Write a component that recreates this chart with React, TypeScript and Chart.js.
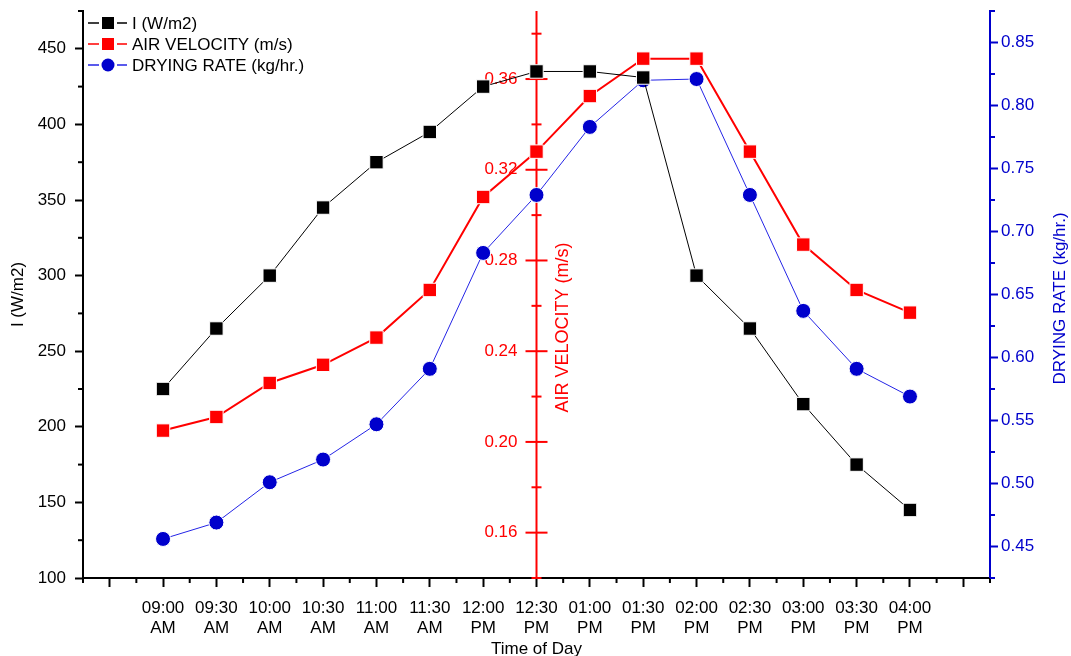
import React, { useEffect, useRef } from 'react';
import { Chart, registerables } from 'chart.js';

Chart.register(...registerables);

// ---- data ----
const TIMES = [
  '09:00 AM', '09:30 AM', '10:00 AM', '10:30 AM', '11:00 AM', '11:30 AM', '12:00 PM',
  '12:30 PM', '01:00 PM', '01:30 PM', '02:00 PM', '02:30 PM', '03:00 PM', '03:30 PM', '04:00 PM',
];
const IRRADIANCE = [225, 265, 300, 345, 375, 395, 425, 435, 435, 431, 300, 265, 215, 175, 145];
const AIR_VELOCITY = [0.205, 0.211, 0.226, 0.234, 0.246, 0.267, 0.308, 0.328, 0.3525, 0.369, 0.369, 0.328, 0.287, 0.267, 0.257];
const DRYING_RATE = [0.456, 0.469, 0.501, 0.519, 0.547, 0.591, 0.683, 0.729, 0.783, 0.820, 0.821, 0.729, 0.637, 0.591, 0.569];

const I_TICKS = [100, 150, 200, 250, 300, 350, 400, 450];
const AV_TICKS = [0.16, 0.2, 0.24, 0.28, 0.32, 0.36];
const DR_TICKS = [0.45, 0.5, 0.55, 0.6, 0.65, 0.7, 0.75, 0.8, 0.85];
const X_TICKS = [-1, 0, 1, 2, 3, 4, 5, 6, 7, 8, 9, 10, 11, 12, 13, 14, 15];

const SERIES_NAMES = ['I (W/m2)', 'AIR VELOCITY (m/s)', 'DRYING RATE (kg/hr.)'];
const TITLE_X = 'Time of Day';
const TITLE_I = 'I (W/m2)';
const TITLE_AV = 'AIR VELOCITY (m/s)';
const TITLE_DR = 'DRYING RATE (kg/hr.)';
const AV_AXIS_AT = '12:30 PM';

// ---- style ----
const FONT = 'Liberation Sans, Arial, Helvetica, sans-serif';
const BLACK = '#000000';
const RED = '#ff0000';
const BLUE = '#0000cc';
const BLUE_LINE = '#2424e6';

const toPts = (arr: number[]) => arr.map((v, i) => ({ x: i, y: v }));

function minorTicks(min: number, max: number, step: number, majors: number[]) {
  const out: number[] = [];
  const n = Math.round((max - min) / step);
  for (let i = 0; i <= n; i++) {
    const v = min + i * step;
    if (!majors.some((m) => Math.abs(m - v) < step / 10)) out.push(v);
  }
  return out;
}

const noPad = (s: any) => {
  s.paddingTop = 0;
  s.paddingBottom = 0;
  s.paddingLeft = 0;
  s.paddingRight = 0;
};

const decorPlugin = {
  id: 'decor',
  beforeDatasetsDraw(chart: any) {
    const { ctx, chartArea, scales } = chart;
    const xs = scales.x;
    const yI = scales.yI;
    const yAV = scales.yAV;
    const yDR = scales.yDR;
    ctx.save();

    // minor ticks on x axis
    ctx.lineWidth = 2;
    ctx.strokeStyle = BLACK;
    for (const v of minorTicks(xs.min, xs.max, 0.5, X_TICKS)) {
      const px = xs.getPixelForValue(v);
      ctx.beginPath();
      ctx.moveTo(px, chartArea.bottom);
      ctx.lineTo(px, chartArea.bottom + 5);
      ctx.stroke();
    }
    // minor ticks on left axis
    for (const v of minorTicks(yI.min, yI.max, 25, I_TICKS)) {
      const py = yI.getPixelForValue(v);
      ctx.beginPath();
      ctx.moveTo(chartArea.left - 5, py);
      ctx.lineTo(chartArea.left, py);
      ctx.stroke();
    }
    // minor ticks on right axis
    ctx.strokeStyle = BLUE;
    for (const v of minorTicks(yDR.min, yDR.max, 0.025, DR_TICKS)) {
      const py = yDR.getPixelForValue(v);
      ctx.beginPath();
      ctx.moveTo(chartArea.right, py);
      ctx.lineTo(chartArea.right + 5, py);
      ctx.stroke();
    }

    // middle air-velocity axis
    const ax = xs.getPixelForValue(TIMES.indexOf(AV_AXIS_AT));
    ctx.strokeStyle = RED;
    ctx.lineWidth = 2;
    ctx.beginPath();
    ctx.moveTo(ax, chartArea.top);
    ctx.lineTo(ax, chartArea.bottom);
    ctx.stroke();
    const avAll = minorTicks(yAV.min, 0.38, 0.02, []);
    for (const v of avAll) {
      const py = yAV.getPixelForValue(v);
      const major = AV_TICKS.some((m) => Math.abs(m - v) < 0.001);
      const h = major ? 11 : 5;
      ctx.beginPath();
      ctx.moveTo(ax - h, py);
      ctx.lineTo(ax + h, py);
      ctx.stroke();
    }
    ctx.fillStyle = RED;
    ctx.font = `17px ${FONT}`;
    ctx.textAlign = 'right';
    ctx.textBaseline = 'middle';
    for (const v of AV_TICKS) {
      ctx.fillText(v.toFixed(2), ax - 19, yAV.getPixelForValue(v));
    }
    // red title
    ctx.save();
    ctx.translate(ax + 27, (chartArea.top + chartArea.bottom) / 2 + 33);
    ctx.rotate(-Math.PI / 2);
    ctx.textAlign = 'center';
    ctx.textBaseline = 'middle';
    ctx.font = `18px ${FONT}`;
    ctx.fillText(TITLE_AV, 0, 0);
    ctx.restore();

    // blue right title (reads bottom-to-top)
    ctx.save();
    ctx.translate(chartArea.right + 70, (chartArea.top + chartArea.bottom) / 2 + 4);
    ctx.rotate(-Math.PI / 2);
    ctx.fillStyle = BLUE;
    ctx.textAlign = 'center';
    ctx.textBaseline = 'middle';
    ctx.font = `17px ${FONT}`;
    ctx.fillText(TITLE_DR, 0, 0);
    ctx.restore();

    // legend
    const rows = [12, 33, 54];
    chart.data.datasets.forEach((ds: any, i: number) => {
      const y = chartArea.top + rows[i];
      const x0 = chartArea.left + 5;
      ctx.strokeStyle = ds.borderColor;
      ctx.lineWidth = 1.5;
      ctx.beginPath();
      ctx.moveTo(x0, y);
      ctx.lineTo(x0 + 11, y);
      ctx.moveTo(x0 + 29, y);
      ctx.lineTo(x0 + 39, y);
      ctx.stroke();
      ctx.fillStyle = ds.pointBackgroundColor;
      const cx = x0 + 20;
      if (ds.pointStyle === 'circle') {
        ctx.beginPath();
        ctx.arc(cx, y, 6.5, 0, Math.PI * 2);
        ctx.fill();
      } else {
        ctx.fillRect(cx - 6, y - 6, 12, 12);
      }
      ctx.fillStyle = BLACK;
      ctx.textAlign = 'left';
      ctx.textBaseline = 'middle';
      ctx.font = `17px ${FONT}`;
      ctx.fillText(ds.label, x0 + 44, y + 1);
    });

    ctx.restore();
  },
};

export default function App() {
  const ref = useRef<HTMLCanvasElement>(null);

  useEffect(() => {
    document.body.style.margin = '0';
    const canvas = ref.current;
    if (!canvas) return;

    const tickFont = { family: FONT, size: 17, lineHeight: 1.15 };
    const titleFont = { family: FONT, size: 17, lineHeight: 1.2 };

    const chart = new Chart(canvas, {
      type: 'line',
      data: {
        datasets: [
          {
            label: SERIES_NAMES[0],
            data: toPts(IRRADIANCE),
            yAxisID: 'yI',
            borderColor: BLACK,
            borderWidth: 1,
            pointStyle: 'rect',
            pointRadius: 9.5,
            pointBackgroundColor: BLACK,
            pointBorderColor: '#ffffff',
            pointBorderWidth: 1,
          },
          {
            label: SERIES_NAMES[1],
            data: toPts(AIR_VELOCITY),
            yAxisID: 'yAV',
            borderColor: RED,
            borderWidth: 2,
            pointStyle: 'rect',
            pointRadius: 9.5,
            pointBackgroundColor: RED,
            pointBorderColor: '#ffffff',
            pointBorderWidth: 1,
          },
          {
            label: SERIES_NAMES[2],
            data: toPts(DRYING_RATE),
            yAxisID: 'yDR',
            borderColor: BLUE_LINE,
            borderWidth: 1,
            pointStyle: 'circle',
            pointRadius: 7.5,
            pointBackgroundColor: BLUE,
            pointBorderColor: '#ffffff',
            pointBorderWidth: 1,
          },
        ],
      },
      options: {
        responsive: false,
        animation: false,
        layout: { padding: { top: 11, left: 0, right: 0, bottom: 0 } },
        plugins: { legend: { display: false }, tooltip: { enabled: false } },
        scales: {
          x: {
            type: 'linear',
            position: 'bottom',
            min: -1.5,
            max: 15.5,
            afterBuildTicks: (s: any) => {
              s.ticks = X_TICKS.map((v) => ({ value: v }));
            },
            afterFit: (s: any) => {
              s.height = 78;
              noPad(s);
            },
            ticks: {
              autoSkip: false,
              maxRotation: 0,
              minRotation: 0,
              padding: 12,
              color: BLACK,
              font: tickFont,
              callback: (v: any) => {
                const t = TIMES[Number(v)];
                return t ? t.split(' ') : '';
              },
            },
            grid: { display: true, drawOnChartArea: false, drawTicks: true, tickLength: 9, tickWidth: 2, tickColor: BLACK },
            border: { display: true, color: BLACK, width: 2 },
            title: { display: true, text: TITLE_X, color: BLACK, font: titleFont, padding: { top: 0, bottom: -4 } },
          },
          yI: {
            type: 'linear',
            position: 'left',
            min: 100,
            max: 475,
            afterBuildTicks: (s: any) => {
              s.ticks = I_TICKS.map((v) => ({ value: v }));
            },
            afterFit: (s: any) => {
              s.width = 83;
              noPad(s);
            },
            ticks: { padding: 9, color: BLACK, font: tickFont, callback: (v: any) => String(v) },
            grid: { display: true, drawOnChartArea: false, drawTicks: true, tickLength: 8, tickWidth: 2, tickColor: BLACK },
            border: { display: true, color: BLACK, width: 2 },
            title: { display: true, text: TITLE_I, color: BLACK, font: titleFont, padding: { top: 8, bottom: 0 } },
          },
          yAV: {
            type: 'linear',
            display: false,
            min: 0.14,
            max: 0.39,
          },
          yDR: {
            type: 'linear',
            position: 'right',
            min: 0.425,
            max: 0.875,
            afterBuildTicks: (s: any) => {
              s.ticks = DR_TICKS.map((v) => ({ value: v }));
            },
            afterFit: (s: any) => {
              s.width = 81;
              noPad(s);
            },
            ticks: { padding: 3, color: BLUE, font: tickFont, callback: (v: any) => Number(v).toFixed(2) },
            grid: { display: true, drawOnChartArea: false, drawTicks: true, tickLength: 8, tickWidth: 2, tickColor: BLUE },
            border: { display: true, color: BLUE, width: 2 },
            title: { display: false },
          },
        },
      },
      plugins: [decorPlugin],
    } as any);

    return () => chart.destroy();
  }, []);

  return <canvas ref={ref} width={1071} height={656} style={{ display: 'block' }} />;
}
